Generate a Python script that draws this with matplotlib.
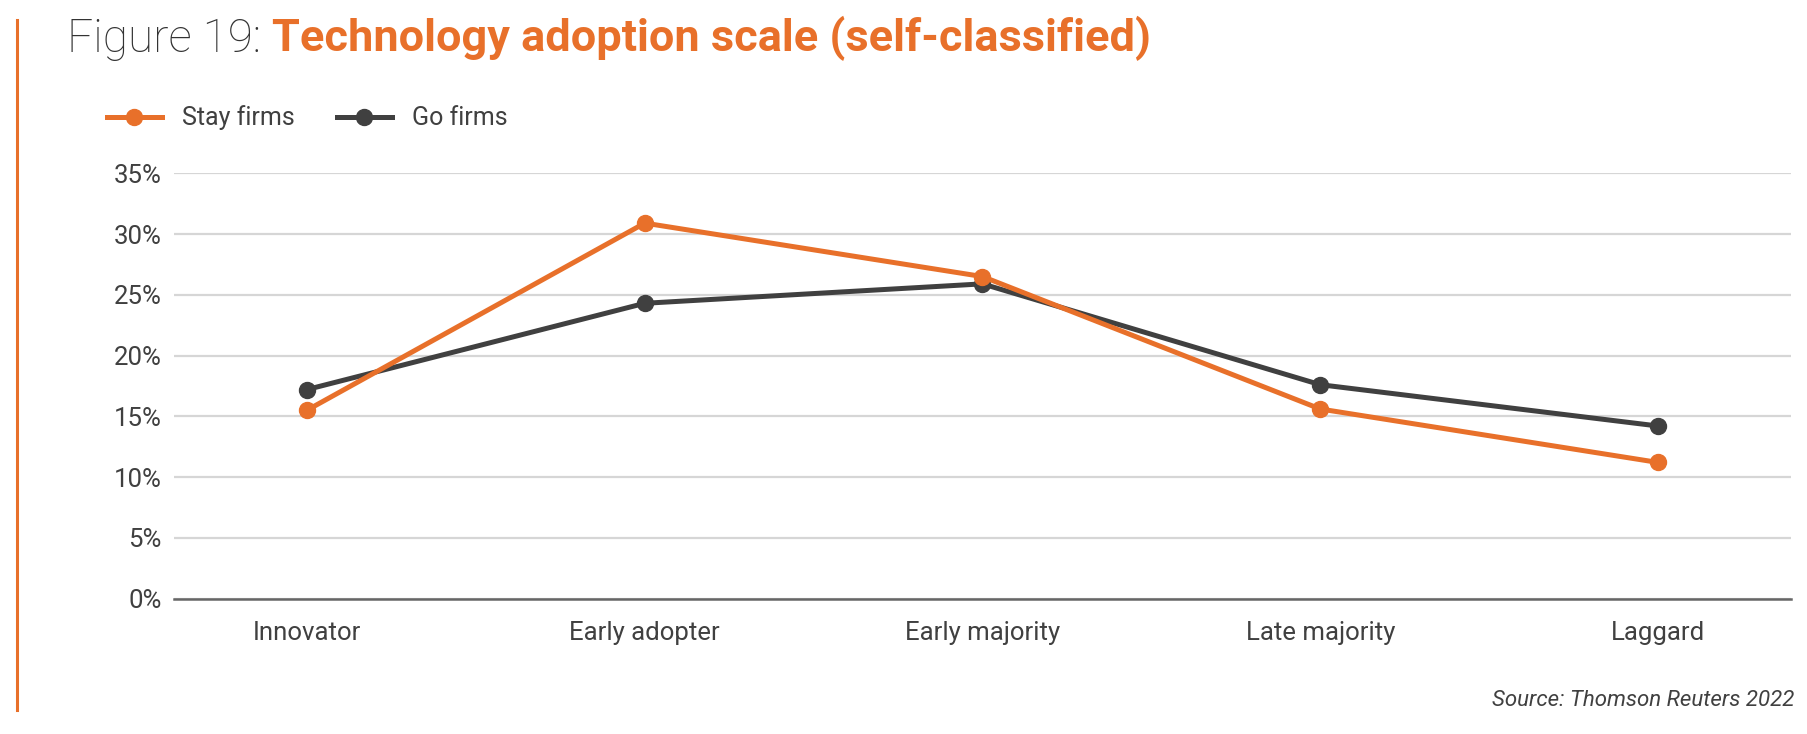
import matplotlib
matplotlib.use('Agg')
import matplotlib.pyplot as plt
from matplotlib.lines import Line2D
from matplotlib.ticker import FuncFormatter

categories = ['Innovator', 'Early adopter', 'Early majority', 'Late majority', 'Laggard']
stay_firms = [15.5, 30.9, 26.5, 15.6, 11.2]
go_firms = [17.2, 24.3, 25.9, 17.6, 14.2]
y_ticks = [0, 5, 10, 15, 20, 25, 30, 35]

orange = '#E8702A'
dark = '#404040'
text_col = '#404040'

plt.rcParams['font.family'] = ['Roboto', 'DejaVu Sans']

fig = plt.figure(figsize=(18.08, 7.34), dpi=100)
ax = fig.add_axes([0.0964, 0.1846, 0.8942, 0.5793])

x = range(len(categories))
ax.plot(x, go_firms, color=dark, lw=3.6, marker='o', ms=11.5, label='Go firms', zorder=3)
ax.plot(x, stay_firms, color=orange, lw=3.6, marker='o', ms=11.5, label='Stay firms', zorder=4)

ax.set_xlim(-0.393, 4.394)
ax.set_ylim(0, 35)
ax.set_yticks(y_ticks)
ax.yaxis.set_major_formatter(FuncFormatter(lambda v, p: f'{v:.0f}%'))
ax.set_xticks(list(x))
ax.set_xticklabels(categories)
ax.grid(axis='y', color='#d6d6d6', lw=1.6, zorder=0)
ax.set_axisbelow(True)
ax.tick_params(axis='both', length=0, labelsize=18.5, colors=text_col)
ax.tick_params(axis='y', pad=9)
ax.tick_params(axis='x', pad=16)
for s in ['top', 'right', 'left']:
    ax.spines[s].set_visible(False)
ax.spines['bottom'].set_color('#666666')
ax.spines['bottom'].set_linewidth(1.8)
ax.spines['bottom'].set_zorder(2)

handles, labels = ax.get_legend_handles_labels()
leg = fig.legend(handles[::-1], labels[::-1], loc='center left', bbox_to_anchor=(0.059, 1 - 118 / 734),
                 ncol=2, frameon=False, fontsize=18, handlelength=2.2, handletextpad=0.8,
                 columnspacing=1.7, borderpad=0, borderaxespad=0)
for t in leg.get_texts():
    t.set_color(text_col)

t1 = fig.text(67 / 1808, 1 - 52 / 734, 'Figure 19: ', fontsize=33, fontweight='light',
              color='#333333', ha='left', va='baseline')
ax.annotate('Technology adoption scale (self-classified)', xy=(1, 0), xycoords=t1,
            fontsize=32.5, fontweight='bold', color=orange, ha='left', va='bottom',
            annotation_clip=False)

fig.text(1794 / 1808, 1 - 701 / 734, 'Source: Thomson Reuters 2022', fontsize=16,
         style='italic', color=text_col, ha='right', va='center')

fig.add_artist(Line2D([17 / 1808, 17 / 1808], [1 - 20 / 734, 1 - 710 / 734], color=orange, lw=2.2))

fig.savefig('out.png', dpi=100)
